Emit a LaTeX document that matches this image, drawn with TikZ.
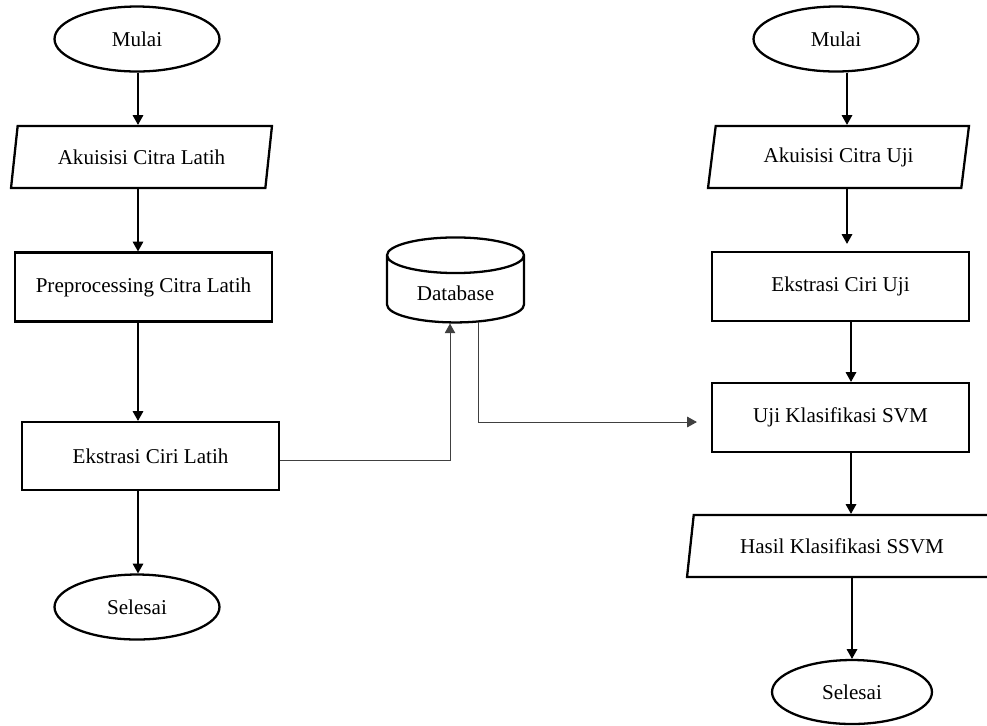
\documentclass[tikz,border=0pt]{standalone}
\usepackage{fontspec}
\setmainfont{Liberation Serif}
\usetikzlibrary{shapes.geometric,arrows.meta,calc}

\begin{document}
\begin{tikzpicture}[x=0.02cm, y=-0.02cm,
    every node/.style={font=\fontsize{12}{14}\selectfont},
    terminal/.style={ellipse, draw, line width=1.3pt, minimum width=3.3cm, minimum height=1.3cm},
    io/.style={trapezium, trapezium left angle=76, trapezium right angle=104, trapezium stretches body, draw, line width=1.3pt, minimum width=5.22cm, minimum height=1.24cm},
    process/.style={rectangle, draw, line width=1.3pt, minimum width=5.14cm, minimum height=1.38cm},
    arr/.style={-{Triangle[length=5.5pt, width=6pt]}, line width=0.6pt},
    dbarr/.style={arr, line width=0.5pt, black!75}]
  \useasboundingbox (0,0) rectangle (987,725);
  \coordinate (colL) at (138,0);
  \coordinate (colR) at (847,0);
  \coordinate (colS) at (851,0);
  % latih
  \node[terminal] (mulaiL) at (137,39) {Mulai};
  \node[io] (akuisisiL) at (141.5,157) {Akuisisi Citra Latih};
  \node[process] (prepro) at (143.5,287) {Preprocessing Citra Latih};
  \node[process, minimum height=1.36cm] (ekstrasiL) at (150.5,456) {Ekstrasi Ciri Latih};
  \node[terminal] (selesaiL) at (137,607) {Selesai};
  % database
  \node[cylinder, shape border rotate=90, aspect=0.4, draw, line width=1.3pt,
        minimum width=2.74cm, minimum height=1.7cm] (db) at (455.5,293) {Database};
  % uji
  \node[terminal] (mulaiR) at (836,39) {Mulai};
  \node[io] (akuisisiR) at (838.5,157) {Akuisisi Citra Uji};
  \node[process] (ekstrasiR) at (840.5,286.5) {Ekstrasi Ciri Uji};
  \node[process] (ujiSVM) at (840.5,417.5) {Uji Klasifikasi SVM};
  \node[io, minimum width=6.2cm] (hasil) at (842,546) {Hasil Klasifikasi SSVM};
  \node[terminal, minimum width=3.2cm, minimum height=1.28cm] (selesaiR) at (852,692) {Selesai};

  \draw[arr] (mulaiL.south -| colL) -- (akuisisiL.north -| colL);
  \draw[arr] (akuisisiL.south -| colL) -- (prepro.north -| colL);
  \draw[arr] (prepro.south -| colL) -- (ekstrasiL.north -| colL);
  \draw[arr] (ekstrasiL.south -| colL) -- (selesaiL.north -| colL);

  \draw[dbarr] ($(ekstrasiL.east)+(0,4)$) -| ($(db.south)+(-5.5,0)$);
  \draw[dbarr, shorten >=0.28cm] ($(db.south)+(22.5,-2)$) |- ($(ujiSVM.west)+(0,4.5)$);

  \draw[arr] (mulaiR.south -| colR) -- (akuisisiR.north -| colR);
  \draw[arr, shorten >=0.14cm] (akuisisiR.south -| colR) -- (ekstrasiR.north -| colR);
  \draw[arr] (ekstrasiR.south -| colS) -- (ujiSVM.north -| colS);
  \draw[arr] (ujiSVM.south -| colS) -- (hasil.north -| colS);
  \draw[arr] (hasil.south -| selesaiR.north) -- (selesaiR.north);
\end{tikzpicture}
\end{document}
